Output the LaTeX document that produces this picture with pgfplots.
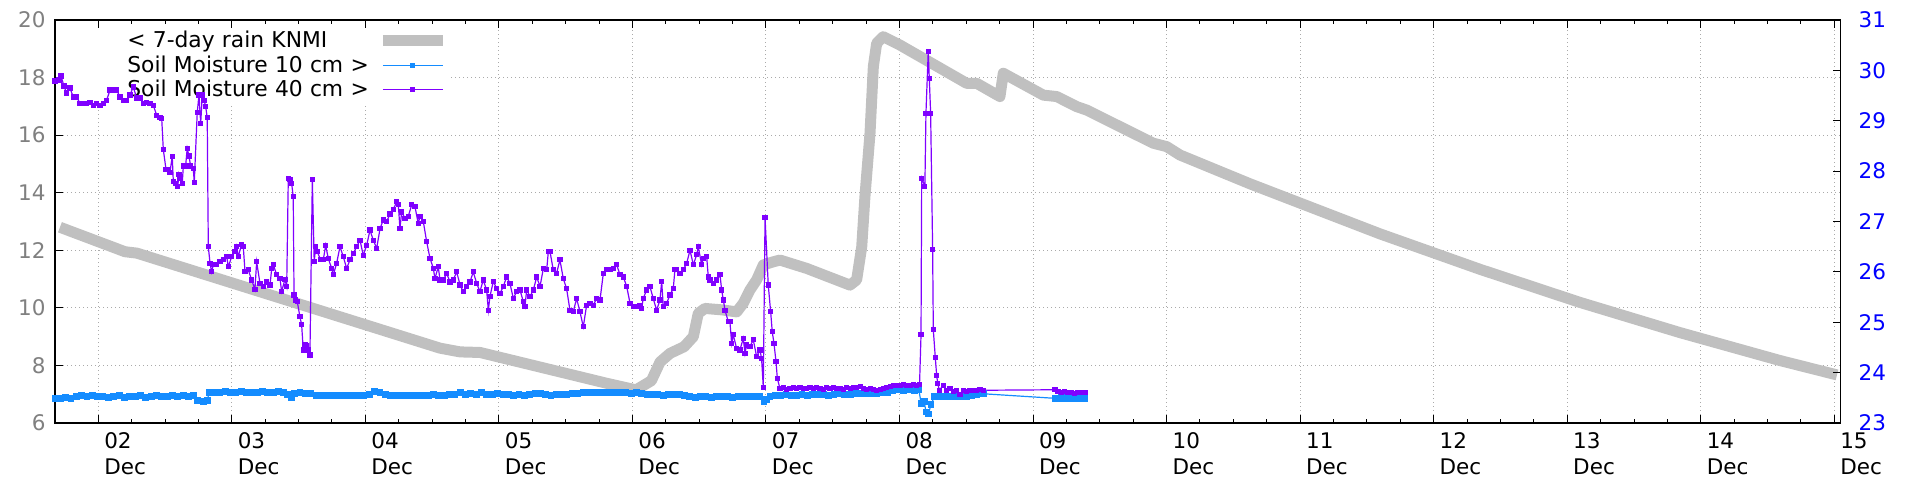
\documentclass[border=0pt]{standalone}
\usepackage{fontspec}
\setmainfont{DejaVu Sans}
\usepackage{pgfplots}
\pgfplotsset{compat=1.18}

\definecolor{rain}{RGB}{192,192,192}
\definecolor{sm10}{RGB}{20,140,255}
\definecolor{sm40}{RGB}{128,0,255}
\definecolor{lefttick}{RGB}{128,128,128}
\definecolor{gridc}{RGB}{170,170,170}

\pgfplotsset{
  base/.style={
    scale only axis, width=892.85pt, height=201.5pt,
    at={(0,0)}, anchor=south west,
    xmin=1.676, xmax=15.048,
    tick align=inside,
    major tick length=4pt, minor tick length=2pt,
    axis line style={-, line width=0.6pt},
    tick style={line width=0.5pt, black},
    tick label style={font=\fontsize{10.75}{13}\selectfont},
    /pgf/number format/assume math mode=true,
  }
}

\begin{document}
\begin{tikzpicture}
\useasboundingbox (-27.5pt,-28.5pt) rectangle (932.5pt,211.5pt);

% left axis: 7-day rain
\begin{axis}[base,
  ymin=6, ymax=20, ytick={6,8,...,20},
  ytick pos=left,
  xtick={2,...,15},
  xticklabels={02\\Dec,03\\Dec,04\\Dec,05\\Dec,06\\Dec,07\\Dec,08\\Dec,09\\Dec,10\\Dec,11\\Dec,12\\Dec,13\\Dec,14\\Dec,15\\Dec},
  minor x tick num=3,
  xticklabel style={anchor=north west, align=left, inner sep=0pt, xshift=2.8pt, yshift=-4.8pt},
  yticklabel style={anchor=east, inner sep=0pt, xshift=-4.5pt, text=lefttick},
  xmajorgrids, ymajorgrids,
  grid style={gridc, line width=0.5pt, dash pattern=on 0.5pt off 1.5pt},
  legend cell align=left,
  legend plot pos=right,
  legend style={at={(0.0403,0.974)}, anchor=north west, draw=none, fill=none,
    inner sep=0pt, row sep=2.25pt, column sep=0pt,
    font=\fontsize{10.9}{13}\selectfont,
    nodes={inner sep=0pt, text width=125pt, align=left, text height=8.5pt, text depth=1.5pt}},
  legend image code/.code={\draw[mark repeat=2,mark phase=2,#1] plot coordinates {(0pt,0pt) (15pt,0pt) (30pt,0pt)};},
]
\addplot[rain, line width=5.5pt, line join=round, mark=none] table {
1.713 12.80
2.200 11.95
2.290 11.90
4.559 8.60
4.709 8.47
4.859 8.45
5.807 7.38
6.027 7.15
6.142 7.47
6.207 8.12
6.282 8.42
6.387 8.65
6.456 9.00
6.493 9.81
6.543 9.98
6.670 9.93
6.781 9.86
6.830 10.16
6.880 10.62
6.930 10.97
6.980 11.49
7.055 11.60
7.105 11.66
7.305 11.37
7.629 10.79
7.679 10.97
7.717 12.12
7.741 13.86
7.779 16.06
7.804 18.38
7.829 19.19
7.878 19.42
8.003 19.13
8.503 17.80
8.578 17.80
8.752 17.34
8.777 18.15
9.077 17.39
9.177 17.34
9.327 16.99
9.402 16.87
9.900 15.72
10.001 15.60
10.100 15.31
10.624 14.31
11.598 12.57
12.346 11.34
13.095 10.19
13.844 9.14
14.593 8.17
15.020 7.67
};
\addlegendentry{\mbox{< 7-day rain KNMI}}
% opaque key background
\fill[white] (rel axis cs:0.0045,0.98) rectangle (rel axis cs:0.2212,0.794);
\addlegendimage{sm10, line width=0.6pt, mark=square*, mark size=1pt, mark options={solid}}
\addlegendentry{\mbox{Soil Moisture 10 cm >}}
\addlegendimage{sm40, line width=0.6pt, mark=square*, mark size=1pt, mark options={solid}}
\addlegendentry{\mbox{Soil Moisture 40 cm >}}
\end{axis}

% right axis: soil moisture
\begin{axis}[base,
  ymin=23, ymax=31, ytick={23,...,31},
  axis y line*=right, axis x line=none,
  yticklabel style={anchor=west, inner sep=0pt, xshift=8.8pt, text=blue},
]
\addplot[sm10, line width=0.6pt, mark=square*, mark size=1.4pt, mark options={solid}] table {
1.676 23.49
1.716 23.49
1.756 23.50
1.796 23.49
1.836 23.53
1.876 23.54
1.916 23.53
1.956 23.54
1.996 23.53
2.036 23.52
2.076 23.50
2.116 23.53
2.156 23.54
2.196 23.51
2.236 23.53
2.276 23.52
2.316 23.54
2.356 23.51
2.396 23.53
2.436 23.54
2.476 23.53
2.516 23.52
2.556 23.54
2.596 23.53
2.636 23.54
2.676 23.53
2.716 23.54
2.746 23.44
2.786 23.43
2.816 23.45
2.830 23.60
2.870 23.61
2.910 23.61
2.950 23.62
2.990 23.61
3.030 23.61
3.070 23.62
3.110 23.61
3.150 23.60
3.190 23.61
3.230 23.62
3.270 23.61
3.310 23.61
3.350 23.62
3.390 23.61
3.420 23.57
3.445 23.50
3.470 23.59
3.510 23.60
3.550 23.59
3.590 23.58
3.630 23.55
3.670 23.55
3.710 23.54
3.750 23.55
3.790 23.55
3.830 23.54
3.870 23.55
3.910 23.55
3.950 23.54
3.990 23.55
4.030 23.56
4.070 23.62
4.110 23.61
4.150 23.56
4.190 23.55
4.230 23.55
4.270 23.54
4.310 23.55
4.350 23.55
4.390 23.54
4.430 23.55
4.470 23.55
4.510 23.56
4.550 23.55
4.590 23.55
4.630 23.56
4.670 23.57
4.710 23.60
4.750 23.56
4.790 23.59
4.830 23.57
4.870 23.60
4.910 23.56
4.950 23.57
4.990 23.59
5.030 23.56
5.070 23.56
5.110 23.55
5.150 23.56
5.190 23.55
5.230 23.57
5.270 23.59
5.310 23.58
5.350 23.56
5.390 23.55
5.430 23.56
5.470 23.57
5.510 23.56
5.550 23.58
5.590 23.59
5.630 23.60
5.670 23.61
5.710 23.60
5.750 23.61
5.790 23.60
5.830 23.61
5.870 23.60
5.910 23.61
5.950 23.60
5.990 23.59
6.030 23.60
6.070 23.59
6.110 23.56
6.150 23.57
6.190 23.56
6.230 23.55
6.270 23.56
6.310 23.57
6.350 23.56
6.390 23.55
6.430 23.52
6.470 23.51
6.510 23.52
6.550 23.52
6.590 23.51
6.630 23.52
6.670 23.53
6.710 23.52
6.750 23.51
6.790 23.52
6.830 23.53
6.870 23.52
6.910 23.53
6.950 23.52
6.985 23.43
7.005 23.46
7.030 23.53
7.070 23.55
7.110 23.55
7.150 23.56
7.190 23.55
7.230 23.55
7.270 23.56
7.310 23.55
7.350 23.56
7.390 23.57
7.430 23.56
7.470 23.55
7.510 23.56
7.550 23.58
7.590 23.57
7.630 23.56
7.670 23.58
7.710 23.59
7.750 23.58
7.790 23.59
7.830 23.58
7.870 23.60
7.910 23.61
7.950 23.64
7.990 23.66
8.030 23.65
8.070 23.66
8.110 23.65
8.145 23.66
8.162 23.39
8.185 23.42
8.198 23.22
8.217 23.18
8.235 23.36
8.260 23.52
8.300 23.52
8.340 23.53
8.380 23.52
8.420 23.52
8.460 23.53
8.500 23.52
8.540 23.55
8.580 23.56
8.628 23.58
9.164 23.49
9.190 23.49
9.215 23.50
9.240 23.49
9.265 23.49
9.290 23.50
9.315 23.49
9.340 23.49
9.365 23.50
9.389 23.49
};
\addplot[sm40, line width=0.6pt, mark=square*, mark size=1pt, mark options={solid}] table {
1.676 29.79
1.706 29.81
1.721 29.89
1.743 29.69
1.763 29.55
1.788 29.65
1.813 29.47
1.838 29.47
1.863 29.35
1.888 29.35
1.913 29.35
1.938 29.37
1.963 29.31
1.988 29.35
2.013 29.31
2.037 29.35
2.063 29.41
2.088 29.61
2.112 29.61
2.138 29.61
2.163 29.47
2.187 29.41
2.213 29.41
2.237 29.51
2.262 29.67
2.288 29.45
2.312 29.45
2.337 29.35
2.362 29.37
2.387 29.35
2.412 29.31
2.437 29.11
2.462 29.07
2.475 29.05
2.487 28.43
2.507 28.04
2.522 28.04
2.537 27.98
2.554 28.29
2.562 27.79
2.580 27.76
2.595 27.69
2.604 27.94
2.612 27.86
2.629 27.76
2.637 28.10
2.654 28.10
2.666 28.45
2.679 28.30
2.692 28.10
2.711 28.06
2.719 27.78
2.741 29.16
2.754 29.51
2.767 28.95
2.779 29.51
2.792 29.41
2.804 29.29
2.816 29.06
2.824 26.50
2.837 26.17
2.849 26.00
2.861 26.14
2.887 26.14
2.911 26.20
2.936 26.24
2.962 26.30
2.974 26.10
2.999 26.30
3.024 26.40
3.036 26.51
3.048 26.30
3.074 26.55
3.086 26.50
3.099 26.00
3.123 26.04
3.149 25.84
3.173 25.65
3.186 26.20
3.211 25.77
3.236 25.71
3.261 25.80
3.286 25.74
3.299 26.07
3.311 26.14
3.336 25.94
3.361 25.87
3.373 25.61
3.398 25.85
3.411 25.71
3.423 27.86
3.436 27.84
3.448 27.76
3.460 27.49
3.466 25.54
3.478 25.44
3.490 25.41
3.510 25.11
3.523 24.95
3.535 24.45
3.548 24.55
3.561 24.53
3.573 24.45
3.585 24.35
3.603 27.84
3.617 26.20
3.628 26.50
3.640 26.40
3.665 26.24
3.685 26.24
3.703 26.53
3.722 26.27
3.748 26.07
3.760 25.94
3.785 26.17
3.810 26.50
3.835 26.30
3.860 26.07
3.885 26.24
3.910 26.37
3.935 26.50
3.960 26.63
3.984 26.33
4.010 26.53
4.035 26.83
4.059 26.63
4.085 26.47
4.110 26.86
4.134 27.03
4.160 27.00
4.184 27.15
4.209 27.24
4.235 27.39
4.247 27.33
4.259 26.86
4.272 27.19
4.297 27.06
4.321 27.10
4.347 27.33
4.372 27.29
4.396 26.96
4.409 27.10
4.434 27.00
4.459 26.60
4.484 26.27
4.509 26.07
4.521 25.87
4.546 26.10
4.559 25.84
4.584 25.84
4.609 25.97
4.634 25.80
4.658 25.84
4.684 26.00
4.709 25.74
4.733 25.61
4.759 25.71
4.783 25.80
4.808 26.00
4.834 25.77
4.858 25.61
4.883 25.84
4.908 25.64
4.921 25.24
4.933 25.51
4.958 25.81
4.983 25.67
5.008 25.57
5.033 25.71
5.058 25.90
5.083 25.77
5.108 25.47
5.133 25.61
5.158 25.64
5.183 25.41
5.195 25.31
5.208 25.64
5.233 25.51
5.258 25.64
5.283 25.90
5.308 25.71
5.333 26.07
5.358 26.04
5.370 26.40
5.383 26.40
5.407 26.04
5.432 25.97
5.457 26.24
5.482 25.87
5.507 25.67
5.532 25.24
5.557 25.21
5.582 25.47
5.607 25.21
5.632 24.91
5.657 25.34
5.682 25.38
5.707 25.34
5.732 25.47
5.757 25.44
5.782 25.97
5.807 26.04
5.832 26.04
5.857 26.07
5.882 26.14
5.907 25.94
5.932 25.90
5.957 25.71
5.982 25.38
6.007 25.31
6.032 25.31
6.057 25.34
6.069 25.28
6.081 25.47
6.106 25.64
6.131 25.71
6.156 25.47
6.181 25.24
6.206 25.44
6.219 25.81
6.231 25.31
6.256 25.38
6.281 25.54
6.306 25.67
6.318 26.04
6.331 26.04
6.356 25.97
6.381 26.04
6.406 26.17
6.431 26.43
6.456 26.14
6.481 26.34
6.493 26.50
6.518 26.14
6.531 26.27
6.556 26.30
6.568 25.90
6.581 25.84
6.606 25.77
6.631 25.84
6.656 25.94
6.668 25.64
6.681 25.44
6.693 25.24
6.718 25.01
6.730 25.01
6.743 24.58
6.755 24.75
6.780 24.48
6.805 24.45
6.830 24.68
6.843 24.38
6.855 24.55
6.880 24.52
6.905 24.65
6.930 24.32
6.955 24.45
6.967 24.28
6.980 23.71
6.993 27.08
7.017 25.74
7.035 25.21
7.047 24.81
7.060 24.58
7.075 24.22
7.085 23.89
7.105 23.68
7.130 23.70
7.155 23.67
7.180 23.69
7.205 23.71
7.230 23.69
7.255 23.70
7.280 23.68
7.305 23.69
7.330 23.71
7.355 23.68
7.380 23.70
7.405 23.69
7.430 23.67
7.455 23.70
7.480 23.69
7.505 23.71
7.530 23.68
7.555 23.69
7.580 23.67
7.605 23.70
7.630 23.68
7.655 23.71
7.680 23.70
7.705 23.72
7.730 23.69
7.755 23.67
7.780 23.69
7.805 23.66
7.830 23.65
7.855 23.67
7.880 23.69
7.905 23.71
7.930 23.72
7.955 23.74
7.980 23.75
8.005 23.74
8.030 23.76
8.055 23.75
8.080 23.74
8.105 23.76
8.130 23.75
8.150 23.77
8.161 24.75
8.166 27.86
8.190 27.70
8.198 29.15
8.215 30.37
8.223 29.84
8.233 29.15
8.248 26.45
8.253 24.85
8.268 24.30
8.278 23.95
8.286 23.79
8.298 23.65
8.328 23.75
8.353 23.65
8.378 23.69
8.403 23.62
8.428 23.65
8.453 23.56
8.478 23.65
8.503 23.62
8.528 23.65
8.553 23.65
8.578 23.64
8.603 23.66
8.628 23.65
9.164 23.66
9.187 23.62
9.212 23.61
9.237 23.62
9.262 23.60
9.287 23.61
9.312 23.59
9.337 23.61
9.362 23.60
9.389 23.60
};
\end{axis}
\end{tikzpicture}
\end{document}
